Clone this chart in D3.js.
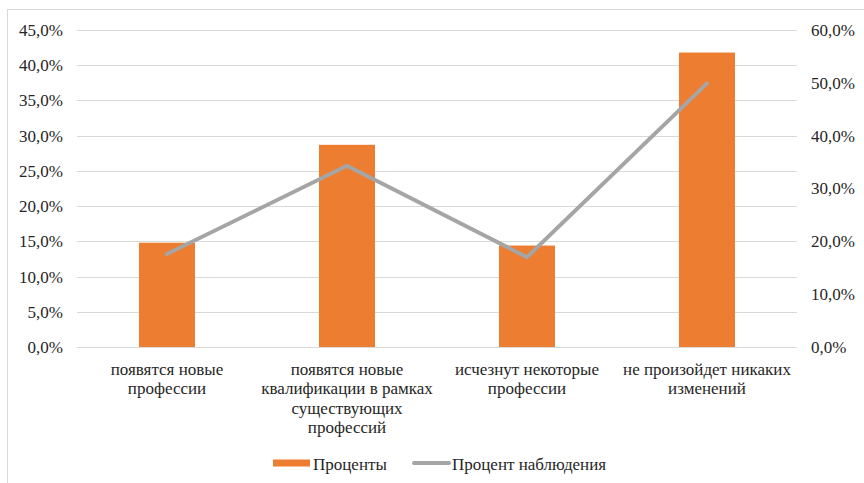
<!DOCTYPE html>
<html><head><meta charset="utf-8">
<script src="https://cdn.jsdelivr.net/npm/d3@7"></script>
<style>
html,body{margin:0;padding:0;background:#fff;}
</style></head>
<body>
<svg id="chart" width="864" height="483"></svg>
<script>
const categories = [
  ["появятся новые","профессии"],
  ["появятся новые","квалификации в рамках","существующих","профессий"],
  ["исчезнут некоторые","профессии"],
  ["не произойдет никаких","изменений"]
];
const percents = [0.148, 0.287, 0.144, 0.418];
const observed = [0.176, 0.343, 0.170, 0.499];
const leftTicks = [0,0.05,0.10,0.15,0.20,0.25,0.30,0.35,0.40,0.45];
const rightTicks = [0,0.10,0.20,0.30,0.40,0.50,0.60];
const seriesNames = ["Проценты","Процент наблюдения"];

const FONT = "Liberation Serif";
const FS = 17;
const svg = d3.select("#chart");
const fmt = v => (v*100).toFixed(1).replace(".", ",") + "%";

svg.append("rect").attr("x",7.5).attr("y",9.5).attr("width",900).attr("height",500)
  .attr("fill","none").attr("stroke","#d9d9d9").attr("stroke-width",1);

const x0 = 77, x1 = 797, yTop = 30, yBot = 347;
const idx = d3.range(categories.length);
const x = d3.scaleBand().domain(idx).range([x0,x1]).paddingInner(0).paddingOuter(0);
const yL = d3.scaleLinear().domain([0,0.45]).range([yBot,yTop]);
const yR = d3.scaleLinear().domain([0,0.60]).range([yBot,yTop]);

const txt = sel => sel.style("font-family", FONT).attr("fill","#262626").attr("font-size",FS);

// gridlines
svg.append("g").selectAll("line").data(leftTicks).join("line")
  .attr("x1",x0).attr("x2",x1)
  .attr("y1",d=>Math.round(yL(d))+0.5).attr("y2",d=>Math.round(yL(d))+0.5)
  .attr("stroke","#d9d9d9").attr("stroke-width",1);

// left axis labels
svg.append("g").selectAll("text").data(leftTicks).join("text")
  .call(txt)
  .attr("x",63).attr("y",d=>yL(d)).attr("dy","0.35em")
  .attr("text-anchor","end").text(fmt);

// right axis labels
svg.append("g").selectAll("text").data(rightTicks).join("text")
  .call(txt)
  .attr("x",811).attr("y",d=>yR(d)).attr("dy","0.35em")
  .attr("text-anchor","start").text(fmt);

// bars
const bw = 56;
svg.append("g").selectAll("rect").data(percents).join("rect")
  .attr("x",(d,i)=>x(i)+x.bandwidth()/2-bw/2).attr("width",bw)
  .attr("y",d=>yL(d)).attr("height",d=>yBot-yL(d))
  .attr("fill","#ed7d31");

// line
const line = d3.line().x((d,i)=>x(i)+x.bandwidth()/2).y(d=>yR(d));
svg.append("path").datum(observed).attr("d",line)
  .attr("fill","none").attr("stroke","#a5a5a5").attr("stroke-width",4)
  .attr("stroke-linecap","round").attr("stroke-linejoin","round");

// category labels
const cat = svg.append("g").selectAll("text").data(categories).join("text")
  .call(txt)
  .attr("text-anchor","middle")
  .attr("x",(d,i)=>x(i)+x.bandwidth()/2).attr("y",369);
cat.selectAll("tspan").data(d=>d).join("tspan")
  .attr("x",function(){return this.parentNode.getAttribute("x");})
  .attr("dy",(d,j)=>j===0?"0.35em":"19.5px").text(d=>d);

// legend
const lg = svg.append("g");
lg.append("rect").attr("x",273).attr("y",459.5).attr("width",37).attr("height",7).attr("fill","#ed7d31");
lg.append("text").call(txt).attr("x",313).attr("y",464).attr("dy","0.35em").text(seriesNames[0]);
lg.append("line").attr("x1",414).attr("x2",449).attr("y1",463).attr("y2",463)
  .attr("stroke","#a5a5a5").attr("stroke-width",4).attr("stroke-linecap","round");
lg.append("text").call(txt).attr("x",452).attr("y",464).attr("dy","0.35em").text(seriesNames[1]);
</script>
</body></html>
